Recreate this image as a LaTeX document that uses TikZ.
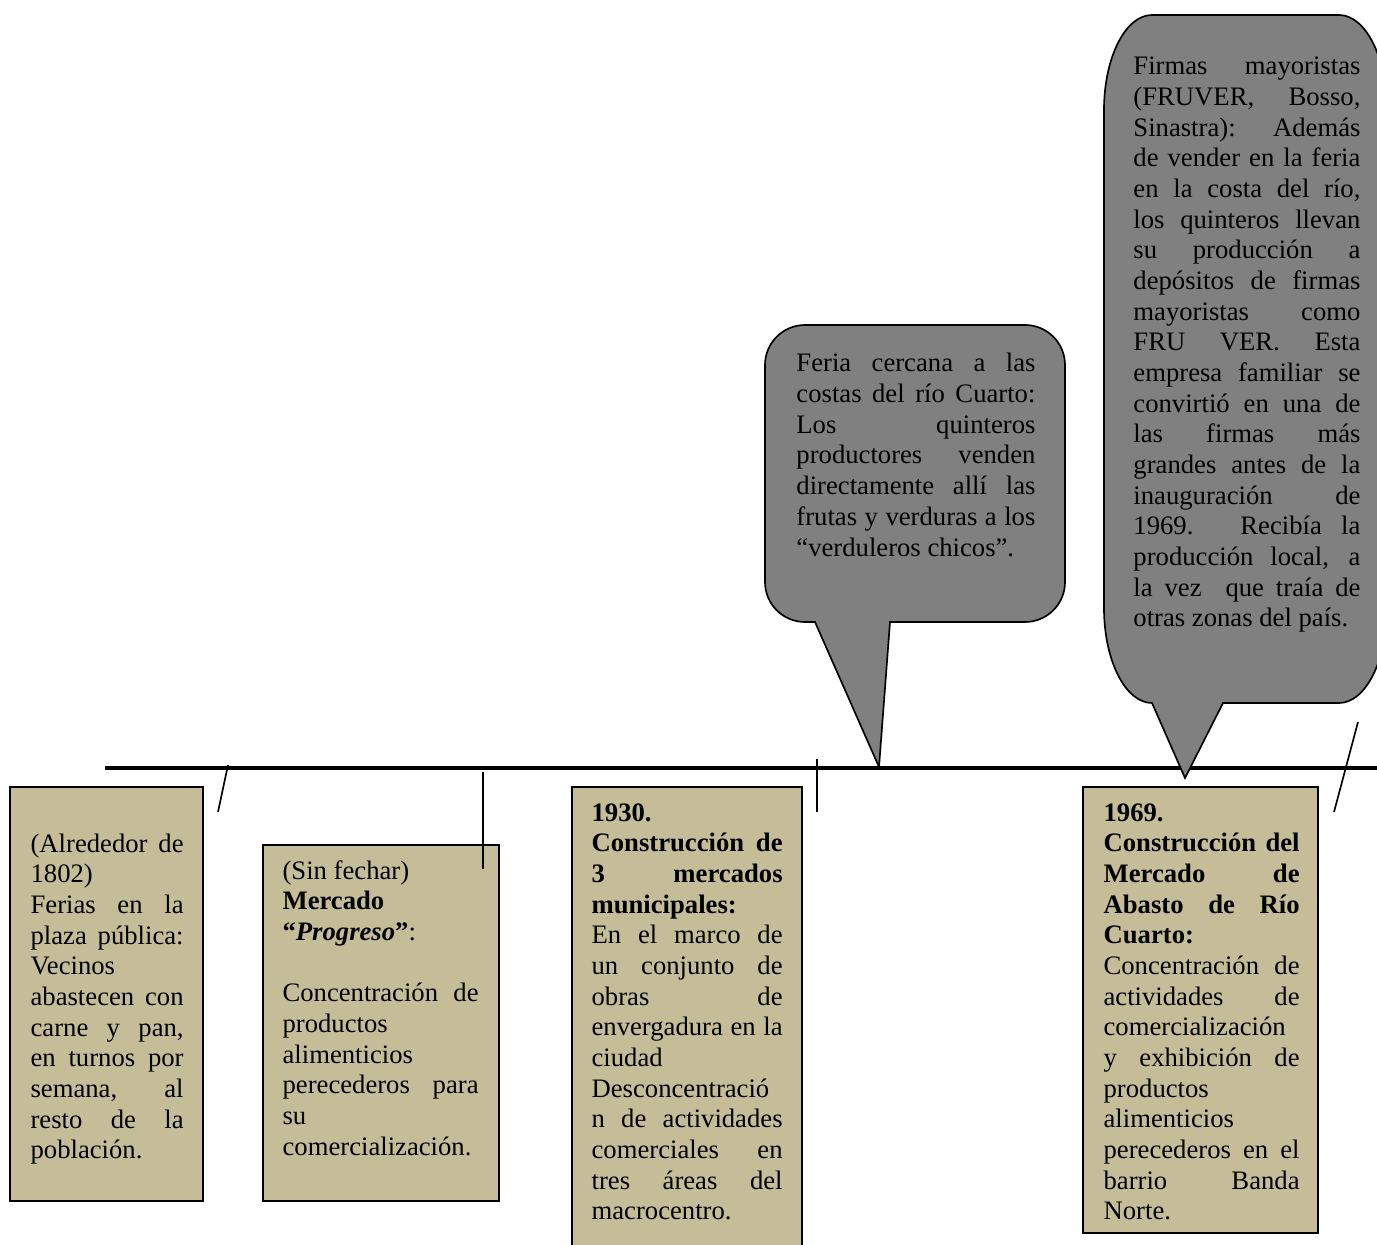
\documentclass[tikz,border=0pt]{standalone}
\usepackage{fontspec}
\setmainfont{Liberation Serif}
\usetikzlibrary{fit}

\definecolor{boxtan}{HTML}{C4BD97}
\definecolor{calloutgray}{HTML}{808080}
\newdimen\px \px=0.45pt
\hyphenpenalty=10000 \exhyphenpenalty=10000 \tolerance=10000 \hbadness=10000

\begin{document}
\begin{tikzpicture}[x=0.45pt, y=-0.45pt,
    tlbox/.style={draw, line width=0.75pt, fill=boxtan, inner sep=0pt},
    tltext/.style={anchor=base west, inner sep=0pt, align=justify, font=\fontsize{12}{13.8}\selectfont},
    callout/.style={draw, line width=0.75pt, fill=calloutgray},
    tick/.style={line width=0.75pt}]

    \useasboundingbox (0,0) rectangle (1377,1245);

    % Timeline
    \coordinate (tl_start) at (105,768);
    \coordinate (tl_end) at (1395,768);
    \draw[line width=1.6pt] (tl_start) -- (tl_end);

    % Boxes
    \node [tlbox, fit={(10,787) (203,1201)}] (box1) {};
    \node [tlbox, fit={(263,845) (499,1201)}] (box2) {};
    \node [tlbox, fit={(572,787) (802,1265)}] (box3) {};
    \node [tlbox, fit={(1083,787) (1318,1233)}] (box4) {};

    \node [tltext, text width=153\px] (text1) at ([shift={(21,66)}]box1.north west)
        {(Alrededor de\linebreak 1802)\\ Ferias en la\linebreak plaza pública:\linebreak Vecinos\linebreak abastecen con\linebreak carne y pan,\linebreak en turnos por\linebreak semana, al\linebreak resto de la\linebreak población.};
    \node [tltext, text width=196\px] (text2) at ([shift={(20,35)}]box2.north west)
        {(Sin fechar)\\ {\bfseries Mercado}\\ {\bfseries “\textit{Progreso}”}:\\[13.8pt] Concentración de\linebreak productos\linebreak alimenticios\linebreak perecederos para\linebreak su\linebreak comercialización.};
    \node [tltext, text width=191\px] (text3) at ([shift={(20,35)}]box3.north west)
        {{\bfseries 1930.\\ Construcción de\linebreak 3 mercados\linebreak municipales:}\\ En el marco de\linebreak un conjunto de\linebreak obras de\linebreak envergadura en la\linebreak ciudad\\ Desconcentració\\ n de actividades\linebreak comerciales en\linebreak tres áreas del\linebreak macrocentro.};
    \node [tltext, text width=196\px] (text4) at ([shift={(21,35)}]box4.north west)
        {{\bfseries 1969.\\ Construcción del\linebreak Mercado de\linebreak Abasto de Río\linebreak Cuarto:}\\ Concentración de\linebreak actividades de\linebreak comercialización\linebreak y exhibición de\linebreak productos\linebreak alimenticios\linebreak perecederos en el\linebreak barrio Banda\linebreak Norte.};

    % Callouts
    \coordinate (c1_tip) at (879,767);
    \coordinate (c2_tip) at (1185,778);
    \draw [callout] (805,325) -- (1025,325) arc[start angle=-90, end angle=0, radius=40]
        -- (1065,582) arc[start angle=0, end angle=90, radius=40]
        -- (890,622) -- (c1_tip) -- (815,622)
        -- (805,622) arc[start angle=90, end angle=180, radius=40]
        -- (765,365) arc[start angle=180, end angle=270, radius=40] -- cycle;
    \draw [callout] (1152,15) -- (1339,15) arc[start angle=-90, end angle=0, x radius=48, y radius=95]
        -- (1387,608) arc[start angle=0, end angle=90, x radius=48, y radius=95]
        -- (1223,703) -- (c2_tip) -- (1152,703)
        arc[start angle=90, end angle=180, x radius=48, y radius=95]
        -- (1104,110) arc[start angle=180, end angle=270, x radius=48, y radius=95] -- cycle;

    \node [tltext, text width=239\px] (callout1) at (796,372)
        {Feria cercana a las\linebreak costas del río Cuarto:\linebreak Los quinteros\linebreak productores venden\linebreak directamente allí las\linebreak frutas y verduras a los\linebreak “verduleros chicos”.};
    \node [tltext, text width=227\px] (callout2) at (1133,75)
        {Firmas mayoristas\linebreak (FRUVER, Bosso,\linebreak Sinastra): Además\linebreak de vender en la feria\linebreak en la costa del río,\linebreak los quinteros llevan\linebreak su producción a\linebreak depósitos de firmas\linebreak mayoristas como\linebreak FRU VER. Esta\linebreak empresa familiar se\linebreak convirtió en una de\linebreak las firmas más\linebreak grandes antes de la\linebreak inauguración de\linebreak 1969. Recibía la\linebreak producción local, a\linebreak la vez\ \ que traía de\linebreak otras zonas del país.};

    % Ticks
    \coordinate (tick1_top) at (228,765);
    \coordinate (tick1_bot) at (218,812);
    \coordinate (tick2_top) at (483,772);
    \coordinate (tick2_bot) at (483,869);
    \coordinate (tick3_top) at (817,759);
    \coordinate (tick3_bot) at (817,812);
    \coordinate (tick4_top) at (1358,722);
    \coordinate (tick4_bot) at (1334,812);
    \draw [tick] (tick1_top) -- (tick1_bot);
    \draw [tick] (tick2_top) -- (tick2_bot);
    \draw [tick] (tick3_top) -- (tick3_bot);
    \draw [tick] (tick4_top) -- (tick4_bot);
\end{tikzpicture}
\end{document}
